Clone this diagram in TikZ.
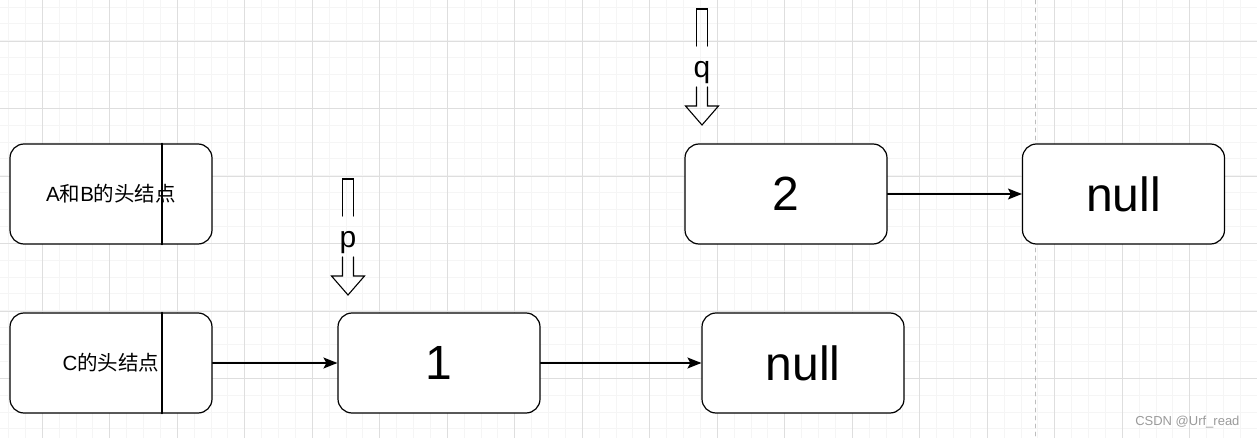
\documentclass[tikz,border=0pt]{standalone}
\usepackage{fontspec}
\setmainfont{Liberation Sans}
\newfontfamily\cjk{Noto Sans CJK SC}
\usetikzlibrary{arrows.meta}
\definecolor{gridminor}{HTML}{F5F5F5}
\definecolor{gridmajor}{HTML}{DEDEDE}
\definecolor{pageline}{HTML}{BDBDBD}
\definecolor{markgray}{HTML}{9A9A9A}
\tikzset{
	box/.style={draw, fill=white, line width=1.2pt, rounded corners=14pt, minimum width=202pt, minimum height=100pt, inner sep=0pt},
	bigtext/.style={font=\fontsize{48}{56}\selectfont},
	link/.style={-{Stealth[length=14pt,width=11pt,inset=3pt]}, line width=1.2pt},
	ptr/.style={line width=1.1pt, line join=miter}
}
\begin{document}
\begin{tikzpicture}[x=1pt, y=-1pt, font=\fontsize{20.5}{24}\selectfont, line cap=round]
		\useasboundingbox (0,0) rectangle (1257,438);
		% Lưới nền
		\foreach \i in {0,...,74} \draw[gridminor, line width=0.8pt] ({8.5+16.875*\i},0) -- ({8.5+16.875*\i},438);
		\foreach \j in {0,...,25} \draw[gridminor, line width=0.8pt] (0,{7+16.875*\j}) -- (1257,{7+16.875*\j});
		\foreach \i in {0,...,17} \draw[gridmajor, line width=0.8pt] ({42.25+67.5*\i},0) -- ({42.25+67.5*\i},438);
		\foreach \j in {0,...,5} \draw[gridmajor, line width=0.8pt] (0,{41+67.5*\j}) -- (1257,{41+67.5*\j});
		\draw[pageline, line width=0.8pt, dashed, dash pattern=on 4pt off 4pt] (1035,0) -- (1035,438);
		
		% Các nút
		\node[box] (ab) at (111,194) {A{\cjk 和}B{\cjk 的头结点}};
		\node[box] (c) at (111,363) {C{\cjk 的头结点}};
		\draw[line width=1.2pt] (162,0 |- ab.north) -- (162,0 |- ab.south);
		\draw[line width=1.2pt] (162,0 |- c.north) -- (162,0 |- c.south);
		\node[box, bigtext] (one) at (439,363) {1};
		\node[box, bigtext] (nullc) at (803,363) {null};
		\node[box, bigtext] (two) at (786,194) {2};
		\node[box, bigtext] (nullb) at (1123.5,194) {null};
		
		\draw[link] (c) -- (one);
		\draw[link] (one) -- (nullc);
		\draw[link] (two) -- (nullb);
		
		% Con trỏ p, q
		\foreach \name/\dx/\dy in {p/0/0, q/354/-170}{
			\begin{scope}[shift={(\dx,\dy)}]
				\node[font=\fontsize{30}{34}\selectfont] (\name) at (348,243) {\name};
				\draw[ptr] (342.5,216) -- (342.5,179) -- (353.5,179) -- (353.5,216);
				\draw[ptr] (342.5,257) -- (342.5,276) -- (331.5,276) -- (348,295) -- (364.5,276) -- (353.5,276) -- (353.5,257);
			\end{scope}
		}
		
		\node[anchor=east, text=markgray, font=\fontsize{13}{15}\selectfont] (wm) at (1243,422) {CSDN @Urf\_read};
\end{tikzpicture}
\end{document}
